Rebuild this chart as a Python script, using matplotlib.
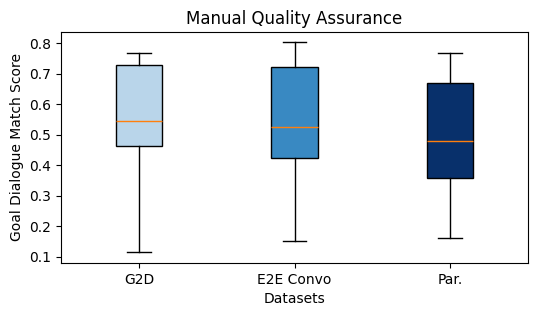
import matplotlib
matplotlib.use("Agg")
from matplotlib import pyplot as plt

datasets = ["G2D", "E2E Convo", "Par."]
whislo = [0.115, 0.151, 0.163]
q1 = [0.462, 0.424, 0.357]
med = [0.544, 0.524, 0.479]
q3 = [0.727, 0.722, 0.670]
whishi = [0.769, 0.802, 0.769]
box_colors = ["#b9d5ea", "#3989c2", "#08306b"]

stats = []
for i in range(len(datasets)):
    stats.append({"label": datasets[i], "whislo": whislo[i], "q1": q1[i],
                  "med": med[i], "q3": q3[i], "whishi": whishi[i], "fliers": []})

fig, ax = plt.subplots(figsize=(5.36, 3.16), dpi=100)
bp = ax.bxp(stats, widths=0.3, patch_artist=True)
for patch, c in zip(bp["boxes"], box_colors):
    patch.set_facecolor(c)

ax.set_title("Manual Quality Assurance")
ax.set_xlabel("Datasets")
ax.set_ylabel("Goal Dialogue Match Score")
plt.subplots_adjust(left=0.114, right=0.985, top=0.899, bottom=0.168)
plt.savefig("out.png")
